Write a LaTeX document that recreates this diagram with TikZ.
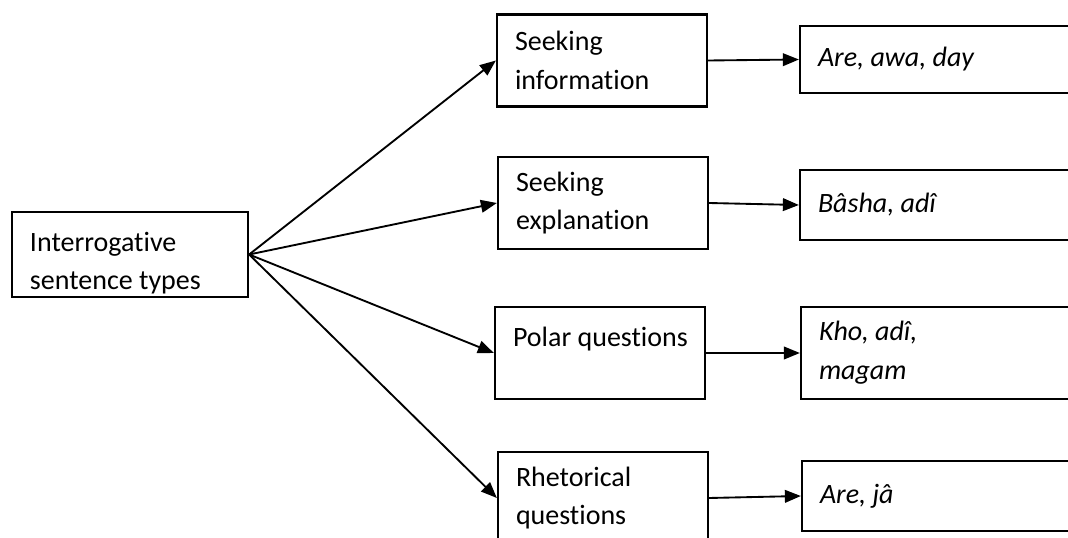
\documentclass[tikz,border=0pt]{standalone}
\usepackage{fontspec}
\setmainfont{Carlito}[Ligatures=NoCommon]
\usepackage{tikz}
\usetikzlibrary{arrows.meta}

\begin{document}
\begin{tikzpicture}[x=0.75pt,y=-0.75pt,
  box/.style={draw,line width=1.7pt,inner xsep=13.5pt,inner ysep=2pt,align=flush left,
    font=\fontsize{21}{29}\selectfont},
  typebox/.style={box,minimum width=157.5pt,text width=130.5pt,minimum height=69pt},
  wordbox/.style={box,minimum width=217.5pt,text width=190.5pt,
    font=\fontsize{21}{29}\selectfont\itshape},
  arr/.style={line width=1.4pt,-{Triangle[length=12pt,width=9.5pt]}}]
\useasboundingbox (0,0) rectangle (1068,538);
\clip (0,0) rectangle (1068,538);

% main box
\node[box,minimum width=177pt,text width=150pt,minimum height=63.75pt,
  inner ysep=0pt,text height=29pt,text depth=34pt] (itype) at (130,254.5)
  {Interrogative\\sentence types};

% the four types
\node[typebox] (info) at (602,60.5) {Seeking\\information};
\node[typebox] (expl) at (603,203) {Seeking\\explanation};
\node[typebox,text depth=24pt] (polar) at (600,353) {\mbox{Polar questions}};
\node[typebox] (rhet) at (603,498) {Rhetorical\\questions};

% question words
\node[wordbox,minimum height=50.25pt] (ainfo) at (945,59.5) {Are, awa, day};
\node[wordbox,minimum height=52.5pt] (aexpl) at (945,205) {Bâsha, adî};
\node[wordbox,minimum height=69pt] (apolar) at (946,353) {Kho, adî,\\magam};
\node[wordbox,minimum height=52.5pt] (arhet) at (947,496) {Are, jâ};

% arrows
\foreach \t in {info,expl,polar,rhet}
  \draw[arr] (itype.east) -- (\t.west);
\draw[arr] (info.east) -- (ainfo.west);
\draw[arr] (expl.east) -- (aexpl.west);
\draw[arr] (polar.east) -- (apolar.west);
\draw[arr] (rhet.east) -- (arhet.west);
\end{tikzpicture}
\end{document}
